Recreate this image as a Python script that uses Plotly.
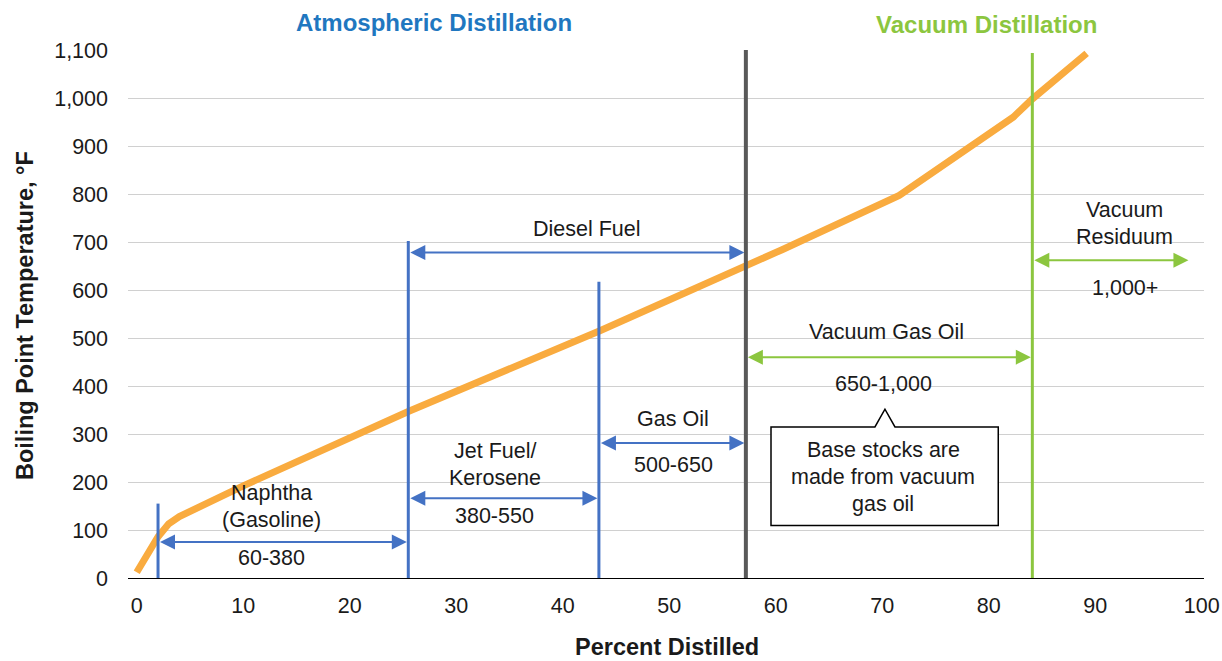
import plotly.graph_objects as go

# Boiling point curve: percent distilled vs temperature (°F)
pct_distilled = [0, 0.9, 2, 3, 4, 10, 18, 25.5, 43.5, 57.2, 60.6, 71.6, 82.3, 84.1, 89.2]
boiling_temp = [12, 44, 86, 113, 128, 192, 272, 347, 515, 650, 684, 797, 960, 998, 1093]

# Fraction cut lines: x position and top of line
blue_cut_x = [2.0, 25.5, 43.4]
blue_cut_top = [155, 702, 617]
atm_vac_split_x = 57.2
atm_vac_split_top = 1100
vac_cut_x = 84.1
vac_cut_top = 1094

# Fraction ranges drawn as double-headed arrows: (from, to, level)
blue_ranges = [
    (2.0, 25.5, 75),     # Naphtha
    (25.5, 43.4, 166),   # Jet fuel / kerosene
    (43.4, 57.2, 281),   # Gas oil
    (25.5, 57.2, 678),   # Diesel fuel
]
green_ranges = [
    (57.2, 84.1, 460),   # Vacuum gas oil
    (84.1, 98.9, 662),   # Vacuum residuum
]

x_ticks = [0, 10, 20, 30, 40, 50, 60, 70, 80, 90, 100]
y_ticks = [0, 100, 200, 300, 400, 500, 600, 700, 800, 900, 1000, 1100]

FONT = "Liberation Sans, Arial, sans-serif"
BLUE = "#4472C4"
GREEN = "#8CC63F"
ORANGE = "#F9AB3F"
GRAY = "#595959"
TXT = "#1a1a1a"

fig = go.Figure()
fig.add_trace(go.Scatter(
    x=pct_distilled, y=boiling_temp, mode="lines",
    line=dict(color=ORANGE, width=7),
    showlegend=False, hoverinfo="skip",
))

shapes = []
for cx, top in zip(blue_cut_x, blue_cut_top):
    shapes.append(dict(type="line", x0=cx, x1=cx, y0=0, y1=top,
                       line=dict(color=BLUE, width=3)))
shapes.append(dict(type="line", x0=atm_vac_split_x, x1=atm_vac_split_x,
                   y0=0, y1=atm_vac_split_top, line=dict(color=GRAY, width=4)))
shapes.append(dict(type="line", x0=vac_cut_x, x1=vac_cut_x,
                   y0=0, y1=vac_cut_top, line=dict(color=GREEN, width=3)))

# Callout box with a pointer on top
bx0, bx1, by0, by1 = 59.56, 80.9, 109.2, 314.8
px0, ptip, px1, ptop = 69.32, 70.26, 71.2, 351.7
callout = (f"M{bx0},{by0} L{bx0},{by1} L{px0},{by1} L{ptip},{ptop} "
           f"L{px1},{by1} L{bx1},{by1} L{bx1},{by0} Z")
shapes.append(dict(type="path", path=callout, fillcolor="white",
                   line=dict(color="black", width=1.5)))

annotations = []


def range_arrow(x0, x1, y, color):
    annotations.append(dict(
        x=x1, y=y, ax=x0, ay=y, xref="x", yref="y", axref="x", ayref="y",
        text="", showarrow=True, arrowhead=2, startarrowhead=2,
        arrowside="end+start", arrowsize=1.5, startarrowsize=1.5,
        arrowwidth=2, arrowcolor=color, standoff=1.5, startstandoff=1.5,
        borderpad=0,
    ))


for x0, x1, y in blue_ranges:
    range_arrow(x0, x1, y, BLUE)
for x0, x1, y in green_ranges:
    range_arrow(x0, x1, y, GREEN)


def label(x, y, text, size=21.5):
    annotations.append(dict(
        x=x, y=y, xref="x", yref="y", text=text, showarrow=False,
        xanchor="center", yanchor="middle",
        font=dict(family=FONT, size=size, color=TXT),
    ))


label(12.67, 177.2, "Naphtha")
label(12.67, 121.7, "(Gasoline)")
label(12.67, 42.5, "60-380")
label(33.6, 264.7, "Jet Fuel/")
label(33.6, 209.3, "Kerosene")
label(33.6, 128.6, "380-550")
label(50.4, 332.3, "Gas Oil")
label(50.4, 234.9, "500-650")
label(42.27, 726.3, "Diesel Fuel")
label(70.4, 512.8, "Vacuum Gas Oil")
label(70.1, 403.8, "650-1,000")
label(70.1, 266.2, "Base stocks are")
label(70.1, 210.5, "made from vacuum")
label(70.1, 155.1, "gas oil")
label(92.8, 766.9, "Vacuum")
label(92.8, 711.1, "Residuum")
label(92.8, 603.3, "1,000+")

# Section headings above the plot
annotations.append(dict(
    x=27.87, y=1.053, xref="x", yref="paper", text="<b>Atmospheric Distillation</b>",
    showarrow=False, xanchor="center", yanchor="middle",
    font=dict(family=FONT, size=24, color="#1F77C0"),
))
annotations.append(dict(
    x=79.75, y=1.049, xref="x", yref="paper", text="<b>Vacuum Distillation</b>",
    showarrow=False, xanchor="center", yanchor="middle",
    font=dict(family=FONT, size=24, color=GREEN),
))

# Axis titles
annotations.append(dict(
    x=(666.5 - 128) / 1076, y=(578 - 646.5) / 528, xref="paper", yref="paper",
    text="<b>Percent Distilled</b>", showarrow=False,
    xanchor="center", yanchor="middle",
    font=dict(family=FONT, size=23.5, color=TXT),
))
annotations.append(dict(
    x=(25 - 128) / 1076, y=(578 - 316) / 528, xref="paper", yref="paper",
    text="<b>Boiling Point Temperature, °F</b>", showarrow=False, textangle=-90,
    xanchor="center", yanchor="middle",
    font=dict(family=FONT, size=23.5, color=TXT),
))

fig.update_layout(
    width=1222, height=661,
    margin=dict(l=128, r=18, t=50, b=83, autoexpand=False),
    paper_bgcolor="white", plot_bgcolor="white",
    font=dict(family=FONT, color=TXT),
    shapes=shapes, annotations=annotations,
    showlegend=False,
)
fig.update_xaxes(
    range=[-0.82, 100.22], tickvals=x_ticks, showgrid=False, zeroline=False,
    showline=True, linecolor="black", linewidth=1.2, ticks="", automargin=False,
    tickfont=dict(family=FONT, size=21.5, color=TXT), ticklabelstandoff=8,
)
fig.update_yaxes(
    range=[0, 1100], tickvals=y_ticks, tickformat=",", showgrid=True,
    gridcolor="#D0D0D0", gridwidth=1, zeroline=False, showline=False, ticks="",
    automargin=False,
    tickfont=dict(family=FONT, size=21.5, color=TXT), ticklabelstandoff=19,
)

fig.write_html("out.html")
